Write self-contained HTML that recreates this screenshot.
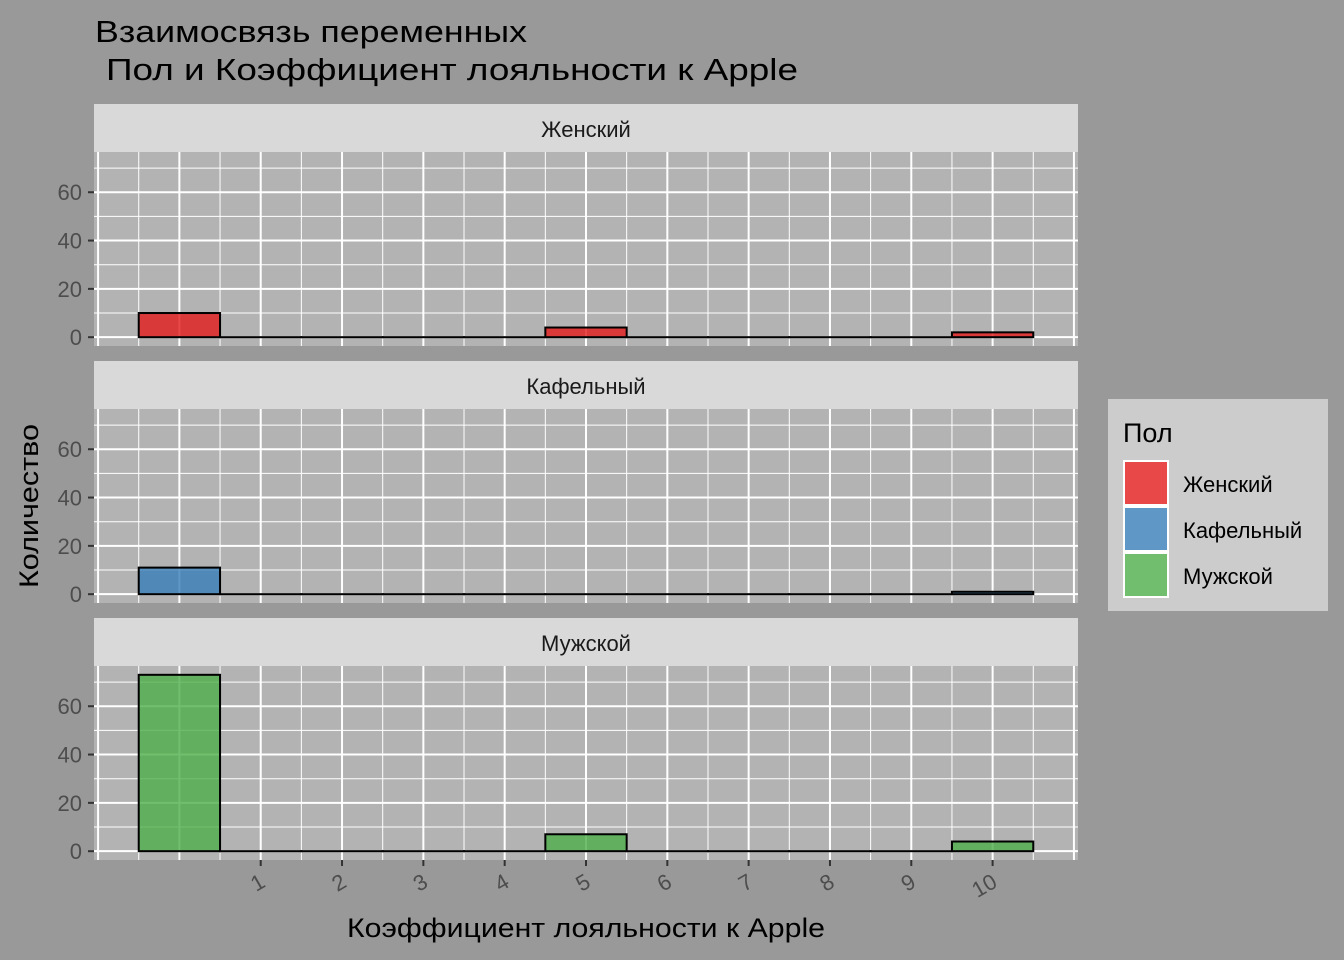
<!DOCTYPE html>
<html><head><meta charset="utf-8"><style>
body{margin:0;background:#999999;}
svg{display:block;font-family:"Liberation Sans","DejaVu Sans",sans-serif;}
</style></head><body>
<svg id="c" width="1344" height="960"></svg>
<script>
const categories=[0,1,2,3,4,5,6,7,8,9,10];
const panels=["Женский","Кафельный","Мужской"];
const femaleValues=[10,0,0,0,0,4,0,0,0,0,2];
const tileValues=[11,0,0,0,0,0,0,0,0,0,1];
const maleValues=[73,0,0,0,0,7,0,0,0,0,4];
const yTicks=[0,20,40,60];
const xTickLabels=["1","2","3","4","5","6","7","8","9","10"];
const series=[femaleValues,tileValues,maleValues];
const colors=["#e41a1c","#377eb8","#4daf4a"];
const NS="http://www.w3.org/2000/svg";
const svg=document.getElementById('c');
function el(t,a,p){const e=document.createElementNS(NS,t);for(const k in a)e.setAttribute(k,a[k]);(p||svg).appendChild(e);return e;}
const X0=94,X1=1078,xmin=-1.05,xmax=11.05;
const x=v=>X0+(v-xmin)/(xmax-xmin)*(X1-X0);
const ymax=Math.max(...series.flat());
const yLo=-ymax*0.05,yHi=ymax*1.05;
const stripTops=[104,361,618];
const bg=el('rect',{x:0,y:0,width:1344,height:960,fill:'#999999'});

let t=el('text',{x:95,y:42,'font-size':31,fill:'#000',textLength:432,lengthAdjust:'spacingAndGlyphs'});t.textContent='Взаимосвязь переменных';

t=el('text',{x:106,y:80,'font-size':31,fill:'#000',textLength:692,lengthAdjust:'spacingAndGlyphs'});t.textContent='Пол и Коэффициент лояльности к Apple';

panels.forEach((name,pi)=>{
  const st=stripTops[pi],PT=st+48,PB=PT+194;
  const y=v=>PB-(v-yLo)/(yHi-yLo)*(PB-PT);
  const g=el('g',{});
  
  const s=el('rect',{x:X0,y:st,width:X1-X0,height:48,fill:'#d9d9d9'},g);
  
  const stx=el('text',{x:(X0+X1)/2,y:st+33,'font-size':22,'text-anchor':'middle',fill:'#1a1a1a'},g);stx.textContent=name;
  
  const p=el('rect',{x:X0,y:PT,width:X1-X0,height:PB-PT,fill:'#b3b3b3'},g);
  
  for(let v=-1;v<=11;v+=0.5){const xx=x(v);if(xx<X0||xx>X1)continue;
    el('line',{x1:xx,x2:xx,y1:PT,y2:PB,stroke:'#fff','stroke-width':Number.isInteger(v)?2:1},g);}
  for(let v=-10;v<=80;v+=10){const yy=y(v);if(yy<PT||yy>PB)continue;
    el('line',{x1:X0,x2:X1,y1:yy,y2:yy,stroke:'#fff','stroke-width':v%20===0?2:1},g);}
  series[pi].forEach((val,i)=>{
    const c=categories[i];
    const r=el('rect',{x:x(c-0.5),y:y(val),width:x(c+0.5)-x(c-0.5),height:Math.max(y(0)-y(val),0.01),fill:colors[pi],'fill-opacity':0.8,stroke:'#000','stroke-width':2},g);
    
  });
  yTicks.forEach(v=>{const yy=y(v);
    el('line',{x1:88,x2:94,y1:yy,y2:yy,stroke:'#333','stroke-width':2},g);
    const tl=el('text',{x:82,y:yy+8,'font-size':22,'text-anchor':'end',fill:'#4d4d4d'},g);tl.textContent=v;
    
  });
});
xTickLabels.forEach((lab,i)=>{const v=i+1,xx=x(v);
  el('line',{x1:xx,x2:xx,y1:860,y2:866,stroke:'#333','stroke-width':2});
  const tl=el('text',{x:xx+6,y:886,'font-size':22,'text-anchor':'end',fill:'#4d4d4d',transform:`rotate(-30 ${xx+6} 886)`});tl.textContent=lab;
  
});
t=el('text',{x:586,y:937,'font-size':27,'text-anchor':'middle',fill:'#000',textLength:478,lengthAdjust:'spacingAndGlyphs'});t.textContent='Коэффициент лояльности к Apple';

t=el('text',{x:38,y:506,'font-size':27,'text-anchor':'middle',fill:'#000',transform:'rotate(-90 38 506)',textLength:164,lengthAdjust:'spacingAndGlyphs'});t.textContent='Количество';

const lg=el('g',{});
el('rect',{x:1108,y:399,width:220,height:212,fill:'#cccccc'},lg);
t=el('text',{x:1123,y:442,'font-size':27,fill:'#000'},lg);t.textContent='Пол';

panels.forEach((name,i)=>{const yy=460+i*46;
  const k=el('rect',{x:1123,y:yy,width:46,height:46,fill:'#fff'},lg);
  
  el('rect',{x:1125,y:yy+2,width:42,height:42,fill:colors[i],'fill-opacity':0.8},lg);
  const tx=el('text',{x:1183,y:yy+32,'font-size':22,fill:'#000'},lg);tx.textContent=name;
  
});
</script>
</body></html>
